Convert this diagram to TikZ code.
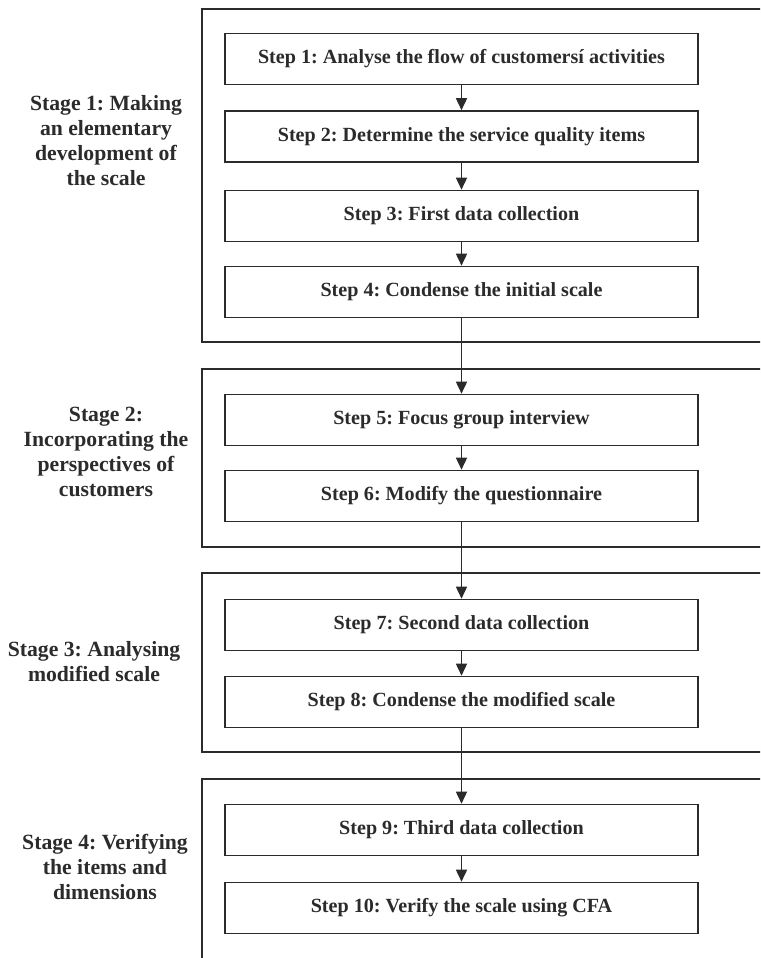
\documentclass[tikz,border=0pt]{standalone}
\usepackage{fontspec}
\setmainfont{Liberation Serif}
\usetikzlibrary{arrows.meta}
\definecolor{ink}{HTML}{2B2B2B}
\frenchspacing
\begin{document}
\begin{tikzpicture}[x=1pt,y=-1pt,
  stepbox/.style={draw=ink,line width=1.6pt,rectangle,minimum width=473pt,minimum height=51pt,inner sep=0pt,
    font=\fontsize{20.1}{25}\selectfont\bfseries\frenchspacing,text=ink},
  stagelabel/.style={align=center,font=\fontsize{21.7}{25}\selectfont\bfseries\frenchspacing,text=ink,inner sep=0pt},
  frame/.style={draw=ink,line width=1.6pt},
  flow/.style={draw=ink,line width=1.6pt,-{Triangle[length=12pt,width=11pt]}}]
\useasboundingbox (0,0) rectangle (760,958);
\clip (0,0) rectangle (760,958);
\fill[white] (0,0) rectangle (760,958);
% stage frames
\draw[frame] (202,9) rectangle (820,342);
\draw[frame] (202,369) rectangle (820,547);
\draw[frame] (202,573) rectangle (820,752);
\draw[frame] (202,779) rectangle (820,1000);
% stage labels
\node[stagelabel] (s1) at (106,141) {Stage 1: Making\\an elementary\\development of\\the scale};
\node[stagelabel] (s2) at (106,452) {Stage 2:\\Incorporating the\\perspectives of\\customers};
\node[stagelabel] (s3) at (94,662) {Stage 3: Analysing\\modified scale};
\node[stagelabel] (s4) at (105,867) {Stage 4: Verifying\\the items and\\dimensions};
% steps
\node[stepbox] (t1) at (461.5,59) {Step 1: Analyse the flow of customersí activities};
\node[stepbox] (t2) at (461.5,136.5) {Step 2: Determine the service quality items};
\node[stepbox] (t3) at (461.5,216) {Step 3: First data collection};
\node[stepbox] (t4) at (461.5,292) {Step 4: Condense the initial scale};
\node[stepbox] (t5) at (461.5,420) {Step 5: Focus group interview};
\node[stepbox] (t6) at (461.5,496) {Step 6: Modify the questionnaire};
\node[stepbox] (t7) at (461.5,625) {Step 7: Second data collection};
\node[stepbox] (t8) at (461.5,702) {Step 8: Condense the modified scale};
\node[stepbox] (t9) at (461.5,830) {Step 9: Third data collection};
\node[stepbox] (t10) at (461.5,908) {Step 10: Verify the scale using CFA};
% arrows
\foreach \a/\b in {t1/t2,t2/t3,t3/t4,t4/t5,t5/t6,t6/t7,t7/t8,t8/t9,t9/t10}
  \draw[flow] (\a.south) -- (\b.north);
\end{tikzpicture}
\end{document}
